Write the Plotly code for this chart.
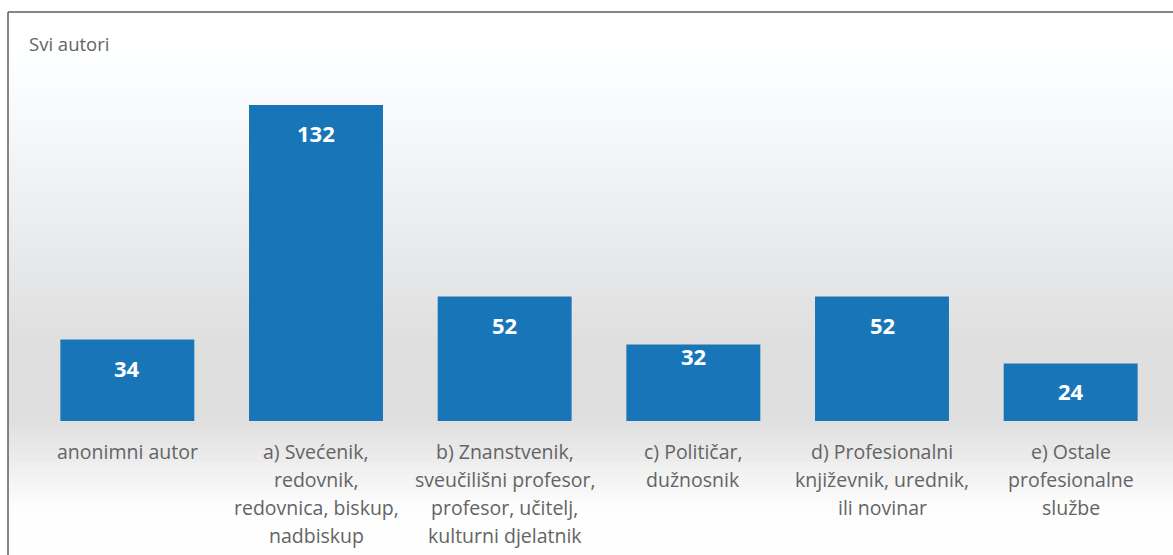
import plotly.graph_objects as go

categories = [
    "anonimni autor",
    "a) Svećenik,<br>redovnik,<br>redovnica, biskup,<br>nadbiskup",
    "b) Znanstvenik,<br>sveučilišni profesor,<br>profesor, učitelj,<br>kulturni djelatnik",
    "c) Političar,<br>dužnosnik",
    "d) Profesionalni<br>književnik, urednik,<br>ili novinar",
    "e) Ostale<br>profesionalne<br>službe",
]
values = [34, 132, 52, 32, 52, 24]
title_text = "Svi autori"

# layout geometry (pixels)
W, H = 1173, 555
L, R = 33, 8
T, B = 60, 134
plot_top, plot_bot = T, H - B
plot_h = plot_bot - plot_top
plot_w = W - L - R
YMAX = 150.8

def px_x(p):
    return (p - L) / plot_w

def px_y(p):
    return (plot_bot - p) / plot_h

fig = go.Figure()
fig.add_trace(go.Bar(
    x=categories, y=values,
    marker=dict(color="#1876b8", line=dict(width=0)),
    hoverinfo="skip",
))

shapes = []
# background gradient strips
def bg_gray(p):
    if p < 40:
        return 255
    if p < 340:
        t = (p - 40) / 300
        return 255 - 33 * (t ** 1.1)
    if p < 420:
        return 222
    if p < 510:
        t = (p - 420) / 90
        return 222 + 31 * t
    return 253

step = 6
p = 12
while p < H:
    g = bg_gray(p + step / 2)
    gi = int(round(g))
    b = min(255, gi + 2) if p < 300 else gi
    col = f"rgb({gi},{min(255, gi + 1)},{b})"
    shapes.append(dict(type="rect", xref="paper", yref="paper",
                       x0=px_x(8), x1=px_x(W + 2), y0=px_y(p + step + 0.5), y1=px_y(p),
                       fillcolor=col, line=dict(width=0), layer="below"))
    p += step

# frame lines
shapes.append(dict(type="line", xref="paper", yref="paper",
                   x0=px_x(8), x1=px_x(8), y0=px_y(H + 2), y1=px_y(12),
                   line=dict(color="#5e5e5e", width=1.5)))
shapes.append(dict(type="line", xref="paper", yref="paper",
                   x0=px_x(8), x1=px_x(W + 2), y0=px_y(12), y1=px_y(12),
                   line=dict(color="#5e5e5e", width=1.5)))

annotations = []
label_offsets = [28, 28, 28, 12, 28, 27]
for c, v, off in zip(categories, values, label_offsets):
    annotations.append(dict(x=c, y=v, xref="x", yref="y", text=f"<b>{v}</b>",
                            showarrow=False, yanchor="middle", yshift=-off,
                            font=dict(family="Open Sans", size=22, color="white")))
    for i, line in enumerate(c.split("<br>")):
        annotations.append(dict(x=c, y=0, xref="x", yref="paper", text=line,
                                showarrow=False, yanchor="middle", yshift=-30 - 28 * i,
                                font=dict(family="Open Sans", size=19.5, color="#646464")))

annotations.append(dict(x=px_x(27), y=px_y(43), xref="paper", yref="paper",
                        text=title_text, showarrow=False, xanchor="left", yanchor="middle",
                        font=dict(family="Open Sans", size=18.5, color="#646464")))

fig.update_layout(
    width=W, height=H,
    margin=dict(l=L, r=R, t=T, b=B, pad=0),
    paper_bgcolor="white", plot_bgcolor="rgba(0,0,0,0)",
    bargap=0.29,
    showlegend=False,
    xaxis=dict(showticklabels=False, showgrid=False, zeroline=False, showline=False,
               ticks="", range=[-0.5, 5.5]),
    yaxis=dict(range=[0, YMAX], visible=False, showgrid=False, zeroline=False),
    shapes=shapes,
    annotations=annotations,
)

fig.write_html("out.html", config={"displayModeBar": False},
               post_script="document.body.style.margin='0';document.body.style.overflow='hidden';")
